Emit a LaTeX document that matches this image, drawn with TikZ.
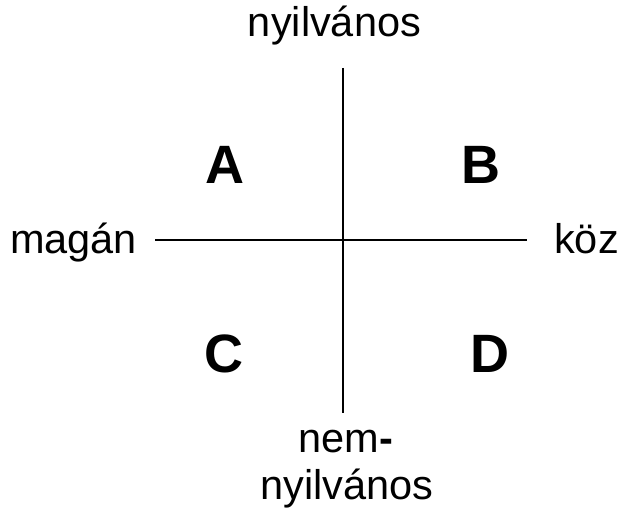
\documentclass[tikz,border=0pt]{standalone}
\usepackage{fontspec}
\setmainfont{Liberation Sans}
\begin{document}
\begin{tikzpicture}[x=1pt,y=-1pt,
  axislabel/.style={font=\fontsize{41.5}{46}\selectfont, inner sep=0pt, anchor=base},
  quadrant/.style={font=\fontsize{54}{60}\selectfont\bfseries, inner sep=0pt, anchor=base},
  axis/.style={line width=2pt, black}]
  \useasboundingbox (0,0) rectangle (620,508);
  % axis end points
  \coordinate (top) at (343,68);
  \coordinate (bottom) at (343,413);
  \coordinate (left) at (155,240);
  \coordinate (right) at (527,240);
  \draw[axis] (top) -- (bottom);
  \draw[axis] (left) -- (right);
  % axis labels
  \node[axislabel] (pub) at (334.5,37) {nyilvános};
  \node[axislabel] (priv) at (73.5,253) {magán};
  \node[axislabel] (comm) at (586.5,253) {köz};
  \node[axislabel] (nonpub1) at (346,452) {nem\textbf{-}};
  \node[axislabel] (nonpub2) at (347,499) {nyilvános};
  % quadrant letters
  \node[quadrant] (qa) at (224.5,183) {A};
  \node[quadrant] (qb) at (480.5,183) {B};
  \node[quadrant] (qc) at (223.5,372) {C};
  \node[quadrant] (qd) at (489.5,372) {D};
\end{tikzpicture}
\end{document}
